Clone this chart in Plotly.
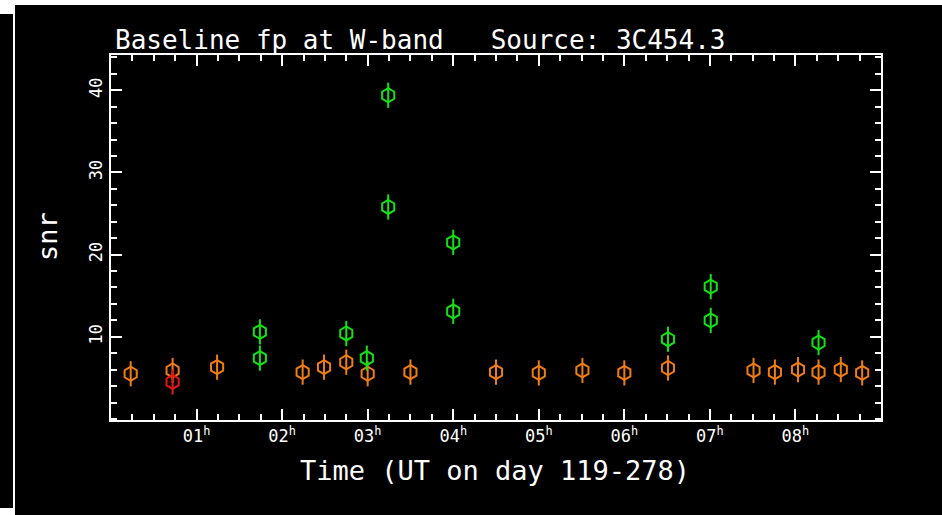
import plotly.graph_objects as go

# ---- data (hours UT, snr) ----
orange_x = [0.23, 0.72, 1.24, 2.24, 2.49, 2.75, 3.00, 3.50, 4.50, 5.00, 5.51, 6.00, 6.51, 7.51, 7.76, 8.03, 8.27, 8.53, 8.78]
orange_y = [5.5, 5.9, 6.3, 5.7, 6.3, 6.9, 5.5, 5.7, 5.7, 5.6, 5.9, 5.6, 6.2, 5.9, 5.7, 6.0, 5.7, 6.0, 5.6]
green_x = [1.74, 1.74, 2.75, 2.99, 3.24, 3.24, 4.00, 4.00, 6.51, 7.01, 7.01, 8.27]
green_y = [10.6, 7.4, 10.4, 7.4, 39.4, 25.8, 21.5, 13.1, 9.7, 16.1, 12.0, 9.3]
red_x = [0.72]
red_y = [4.5]

x_tickvals = [1, 2, 3, 4, 5, 6, 7, 8]
x_ticktext = ["01<sup>h</sup>", "02<sup>h</sup>", "03<sup>h</sup>", "04<sup>h</sup>",
              "05<sup>h</sup>", "06<sup>h</sup>", "07<sup>h</sup>", "08<sup>h</sup>"]
y_tickvals = [10, 20, 30, 40]

FONT = "DejaVu Sans Mono"
W, H = 942, 515
ML, MR, MT, MB = 111, 61, 55, 95
PW, PH = W - ML - MR, H - MT - MB

def px_x(p):
    return (p - ML) / PW

def px_y(p):
    return (H - MB - p) / PH

fig = go.Figure()

series = [
    (orange_x, orange_y, "rgb(240,125,20)"),
    (green_x, green_y, "rgb(20,225,20)"),
    (red_x, red_y, "rgb(235,20,20)"),
]
for xs, ys, col in series:
    fig.add_trace(go.Scatter(
        x=xs, y=ys, mode="markers", showlegend=False, hoverinfo="skip",
        marker=dict(symbol="hexagon-open", size=14, color=col, line=dict(color=col, width=2)),
    ))
    fig.add_trace(go.Scatter(
        x=xs, y=ys, mode="markers", showlegend=False, hoverinfo="skip",
        marker=dict(symbol="line-ns-open", size=18, color=col, line=dict(color=col, width=2)),
    ))

axis_common = dict(
    showgrid=False, zeroline=False, showline=True, linecolor="white", linewidth=2,
    mirror="ticks", ticks="inside", tickcolor="white", tickwidth=2,
    tickfont=dict(family=FONT, size=17, color="white"),
)

fig.update_xaxes(
    range=[0, 9], tickmode="array", tickvals=x_tickvals, ticktext=x_ticktext,
    ticklen=11, minor=dict(dtick=0.25, ticks="inside", ticklen=6, tickcolor="white", tickwidth=2),
    **axis_common,
)
fig.update_yaxes(
    range=[-0.13, 44.3], tickmode="array", tickvals=y_tickvals, tickangle=-90,
    ticklen=11, minor=dict(dtick=2, ticks="inside", ticklen=6, tickcolor="white", tickwidth=2),
    **axis_common,
)

shapes = []
white_rects = [
    (0, 0, W, 5),      # top strip
    (0, 0, 15, 14),    # top-left block
    (13, 0, 15, H),    # vertical divider
    (0, 508, 13, H),   # bottom-left block
]
for x0, y0, x1, y1 in white_rects:
    shapes.append(dict(type="rect", xref="paper", yref="paper",
                       x0=px_x(x0), x1=px_x(x1), y0=px_y(y1), y1=px_y(y0),
                       fillcolor="white", line=dict(width=0), layer="above"))

annotations = [
    dict(text="Time (UT on day 119-278)", xref="paper", yref="paper",
         x=px_x(495), y=px_y(470), xanchor="center", yanchor="middle", showarrow=False,
         font=dict(family=FONT, size=27, color="white")),
    dict(text="snr", xref="paper", yref="paper",
         x=px_x(48), y=px_y(237), xanchor="center", yanchor="middle", showarrow=False,
         textangle=-90, font=dict(family=FONT, size=27, color="white")),
]

fig.update_layout(
    width=W, height=H,
    margin=dict(l=ML, r=MR, t=MT, b=MB),
    paper_bgcolor="black", plot_bgcolor="black",
    title=dict(text="Baseline fp at W-band   Source: 3C454.3",
               x=px_x(115), xref="paper", xanchor="left",
               y=1 - 40 / H, yref="container", yanchor="middle",
               font=dict(family=FONT, size=26, color="white")),
    shapes=shapes, annotations=annotations,
)

fig.write_html("out.html")
